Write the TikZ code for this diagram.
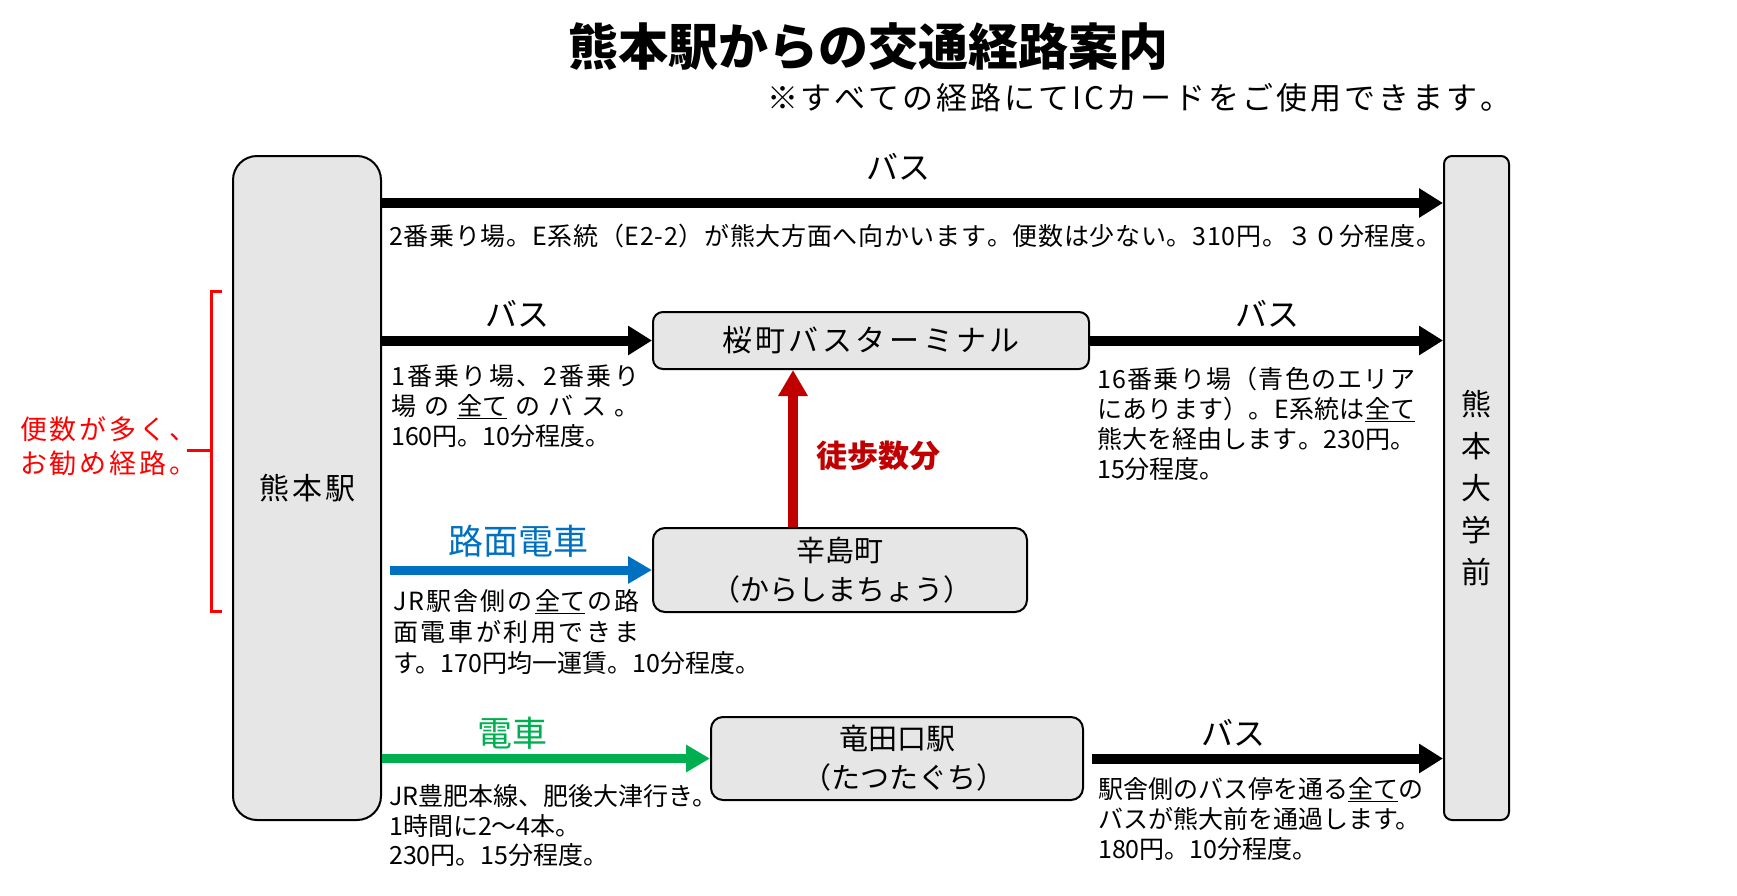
\documentclass[tikz,border=0pt]{standalone}
\usepackage{fontspec}
\setmainfont{Noto Sans CJK JP}
\usetikzlibrary{arrows.meta}
\definecolor{boxgray}{HTML}{E6E6E6}
\definecolor{tramblue}{HTML}{0070C0}
\definecolor{traingreen}{HTML}{00B050}
\definecolor{walkred}{HTML}{C00000}
\definecolor{notered}{HTML}{FF0000}
\makeatletter
\newcommand\spreadline[2]{\hbox to #1{\@tfor\sp@x:=#2\do{\sp@x\hfil}\unskip}}
\makeatother
\newcommand\ulin[1]{\setbox0\hbox{#1}\rlap{\rule[-4pt]{\wd0}{1.6pt}}#1}
\begin{document}
\begin{tikzpicture}[x=1pt,y=-1pt,
  stn/.style={draw=black, line width=2pt, fill=boxgray, inner sep=0pt, align=center},
  lbl/.style={inner sep=0pt},
  desc/.style={inner sep=0pt, anchor=west, align=left, font=\fontsize{25}{30}\selectfont},
  buslbl/.style={inner sep=0pt, font=\fontsize{32}{36}\selectfont},
  busarrow/.style={line width=10pt, -{Triangle[length=24pt,width=28pt]}},
]
\useasboundingbox (0,0) rectangle (1737,895);

% title
\node[lbl, font=\bfseries\fontsize{50}{54}\selectfont] (title) at (868,47) {熊本駅からの交通経路案内};
\node[lbl, font=\fontsize{31}{36}\selectfont] (subtitle) at (1139,98) {\spreadline{744pt}{※すべての経路にてICカードをご使用できます。}};

% stations
\node[stn, rounded corners=24pt, minimum width=148pt, minimum height=664pt,
      font=\fontsize{30}{36}\selectfont] (kmst) at (307,488) {\spreadline{96pt}{熊本駅}};
\node[stn, rounded corners=8pt, minimum width=65pt, minimum height=664pt,
      font=\fontsize{30}{42}\selectfont] (kudai) at (1476.5,488) {熊\\本\\大\\学\\前};
\node[stn, rounded corners=10pt, minimum width=436pt, minimum height=57pt,
      font=\fontsize{30}{36}\selectfont] (sakura) at (871,340.5) {\spreadline{298pt}{桜町バスターミナル}};
\node[stn, rounded corners=12pt, minimum width=374pt, minimum height=84pt,
      font=\fontsize{29}{39}\selectfont] (kara) at (840,570) {辛島町\\\spreadline{258pt}{（からしまちょう）}};
\node[stn, rounded corners=12pt, minimum width=372pt, minimum height=83pt,
      font=\fontsize{29}{39}\selectfont] (tatsu) at (897,758.5) {竜田口駅\\\spreadline{190pt}{（たつたぐち）}};

% helper coordinates
\coordinate (row1) at (0,203);
\coordinate (walkx) at (793,0);

% connectors
\draw[busarrow] (kmst.east |- row1) -- (kudai.west |- row1);
\draw[busarrow] (kmst.east |- sakura.west) -- (sakura.west);
\draw[busarrow] (sakura.east) -- (kudai.west |- sakura.east);
\draw[line width=10pt, walkred, -{Triangle[length=26pt,width=28pt]}] (kara.north -| walkx) -- (sakura.south -| walkx);
\draw[line width=9pt, tramblue, -{Triangle[length=24pt,width=26pt]}] ([xshift=8pt]kmst.east |- kara.west) -- (kara.west);
\draw[line width=9pt, traingreen, -{Triangle[length=24pt,width=26pt]}] (kmst.east |- tatsu.west) -- (tatsu.west);
\draw[busarrow] ([xshift=8pt]tatsu.east) -- (kudai.west |- tatsu.east);

% arrow labels
\node[buslbl] (l1) at (898,167) {バス};
\node[buslbl] (l2) at (517,314) {バス};
\node[buslbl] (l3) at (1267,314) {バス};
\node[buslbl] (l4) at (1233,733) {バス};
\node[lbl, text=tramblue, font=\fontsize{35}{40}\selectfont] (l5) at (518,541) {路面電車};
\node[lbl, text=traingreen, font=\fontsize{35}{40}\selectfont] (l6) at (512,733) {電車};
\node[lbl, text=walkred, font=\bfseries\fontsize{31}{36}\selectfont] (l7) at (878,456) {徒歩数分};

% descriptions
\node[desc] (d1) at (389,236) {\spreadline{1052pt}{2番乗り場。E系統（E2-2）が熊大方面へ向かいます。便数は少ない。310円。３０分程度。}};
\node[desc] (d2) at (391,406) {\spreadline{248pt}{1番乗り場、2番乗り}\\
  \spreadline{248pt}{場の{\ulin{全て}}のバス。}\\
  160円。10分程度。};
\node[desc] (d3) at (1097,423.5) {\spreadline{318pt}{16番乗り場（青色のエリア}\\
  \spreadline{318pt}{にあります）。E系統は{\ulin{全て}}}\\
  \spreadline{318pt}{熊大を経由します。230円。}\\
  15分程度。};
\node[desc, font=\fontsize{25}{31}\selectfont] (d4) at (393,632) {\spreadline{246pt}{JR駅舎側の{\ulin{全て}}の路}\\
  \spreadline{246pt}{面電車が利用できま}\\
  す。170円均一運賃。10分程度。};
\node[desc, font=\fontsize{25}{29.5}\selectfont] (d5) at (389,826) {JR豊肥本線、肥後大津行き。\\
  1時間に2～4本。\\
  230円。15分程度。};
\node[desc] (d6) at (1098,819) {駅舎側のバス停を通る\ulin{全て}の\\
  バスが熊大前を通過します。\\
  180円。10分程度。};

% recommendation bracket
\coordinate (bt) at (222,291);
\coordinate (bb) at (222,611);
\coordinate (bm) at (187,450);
\draw[notered, line width=3pt] (bt) -- (211,291) -- (211,611) -- (bb);
\draw[notered, line width=3pt] (bm) -- (211,450);
\node[lbl, anchor=west, align=left, text=notered, font=\fontsize{27}{34}\selectfont] (rec) at (20,446.5) {\spreadline{176pt}{便数が多く、}\\\spreadline{176pt}{お勧め経路。}};
\end{tikzpicture}
\end{document}
